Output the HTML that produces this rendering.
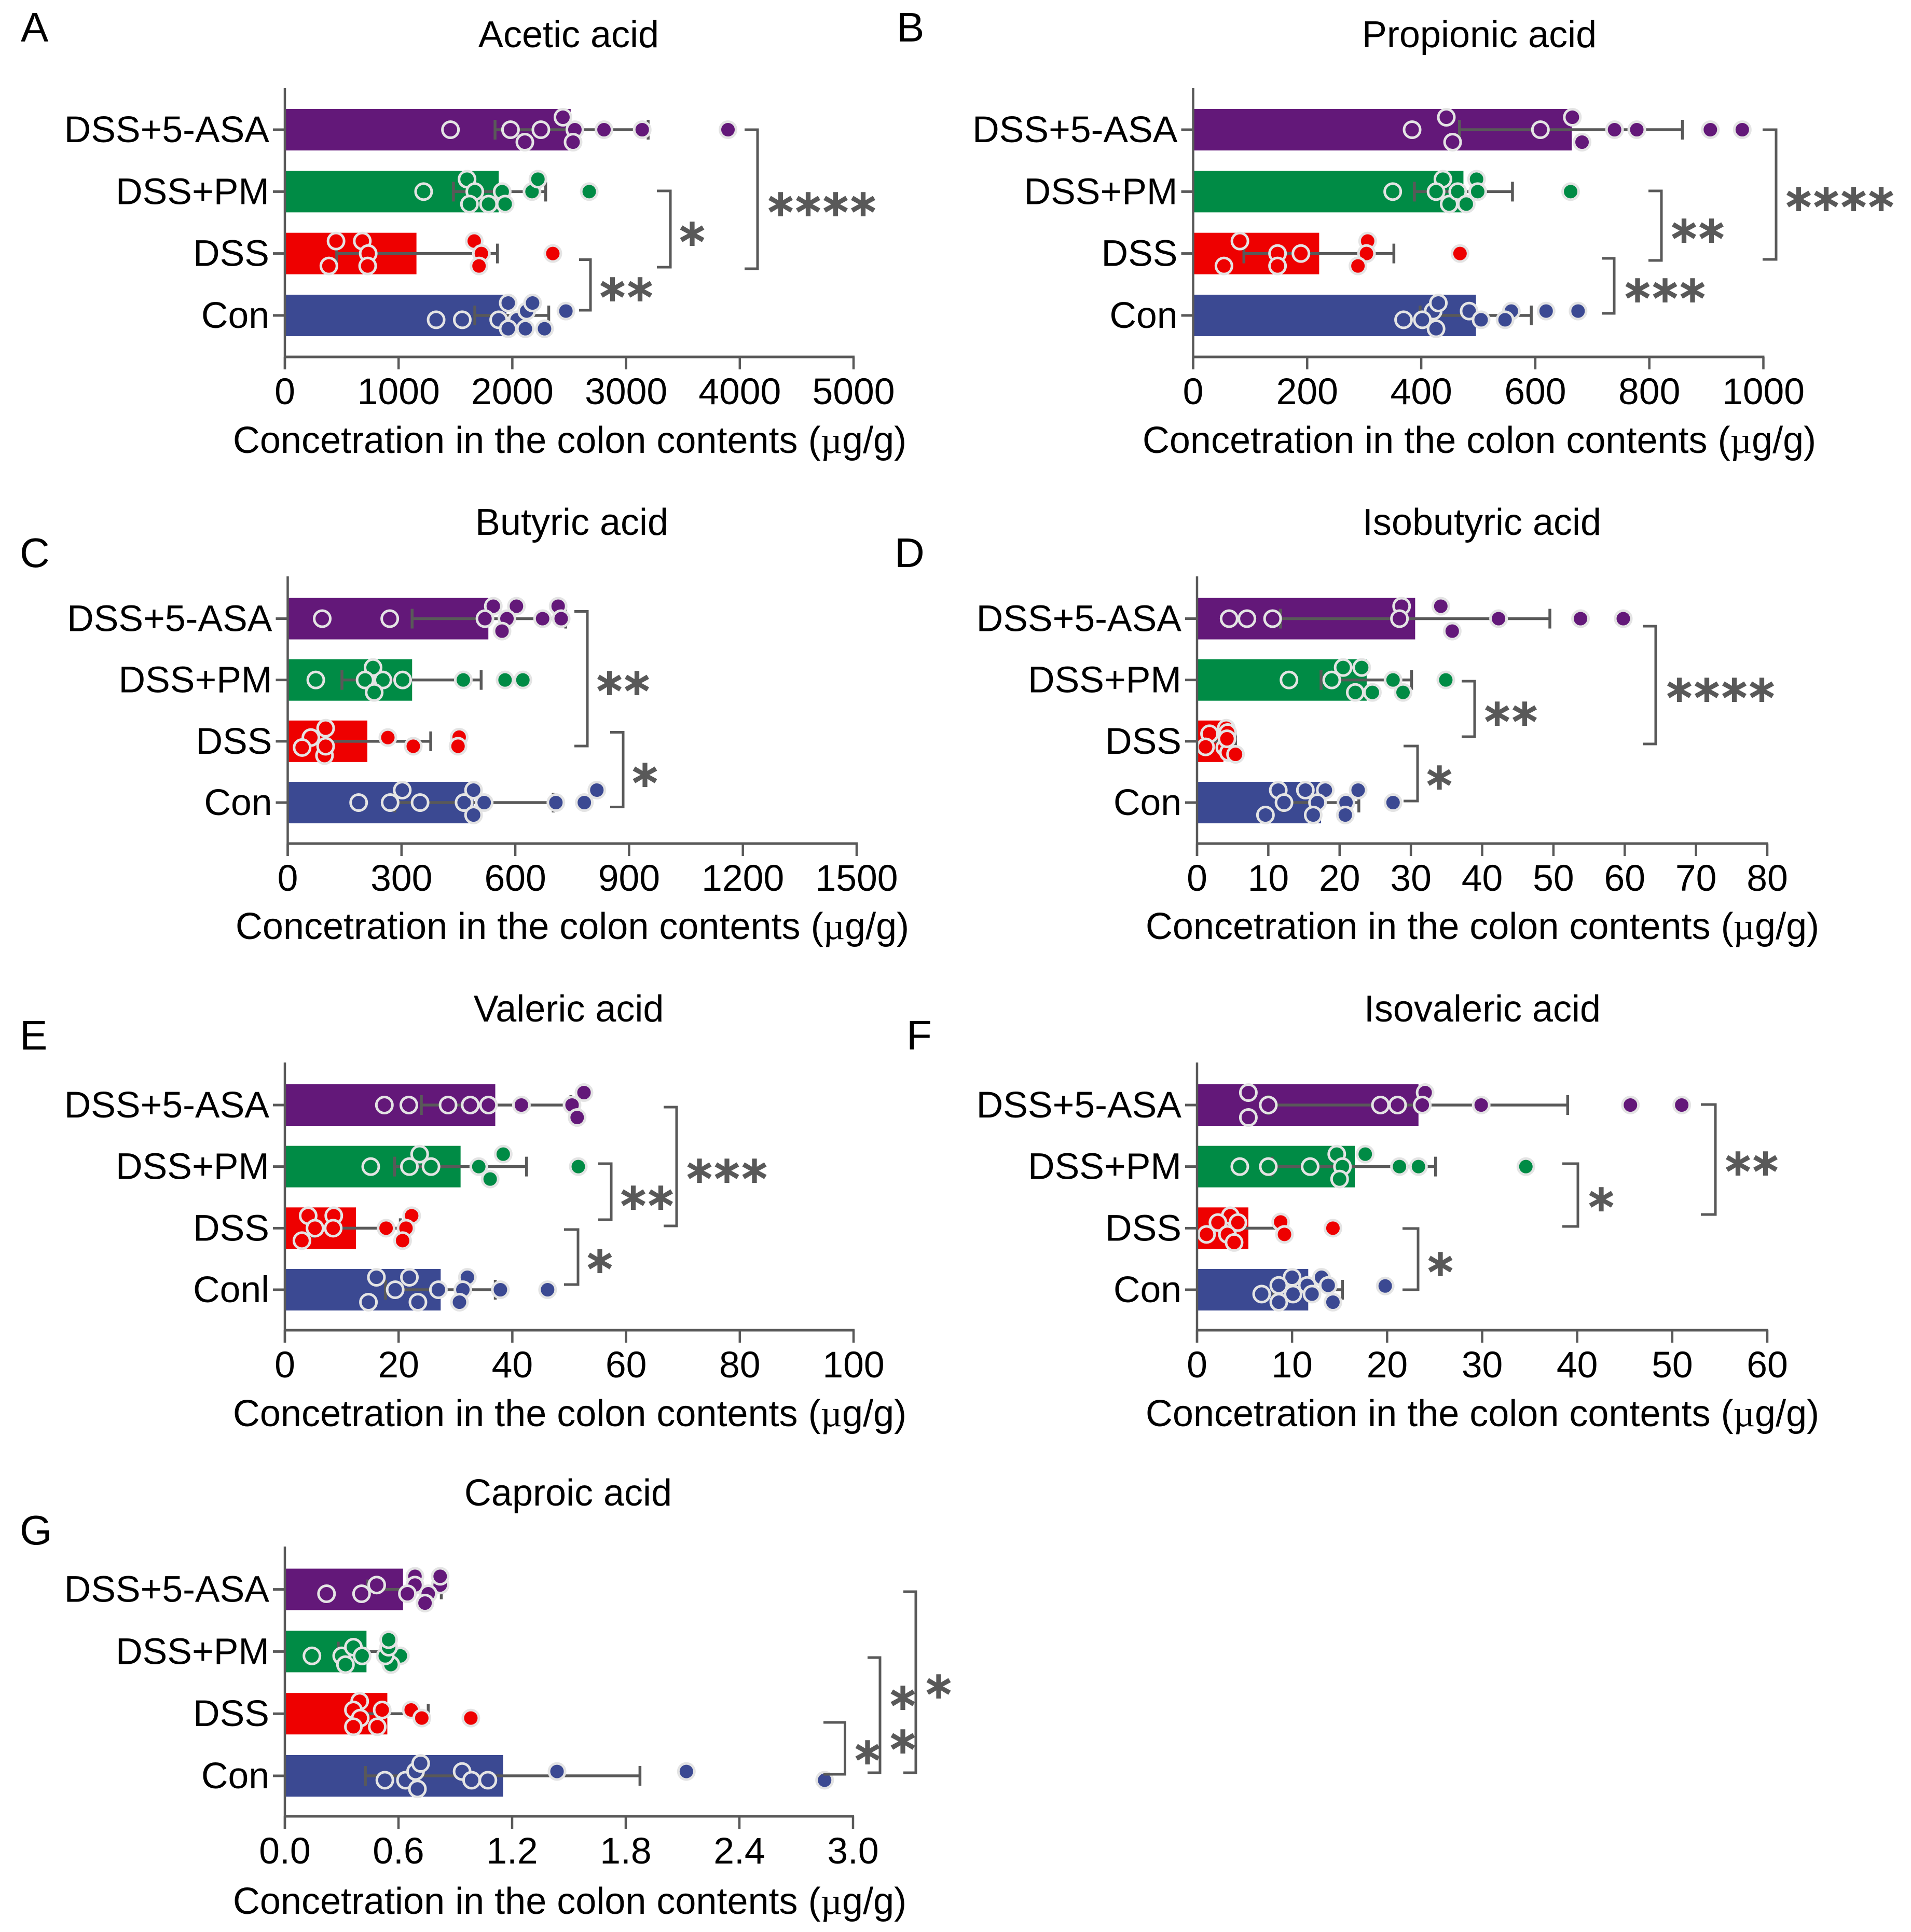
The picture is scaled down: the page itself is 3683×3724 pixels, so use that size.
<!DOCTYPE html>
<html lang="en">
<head>
<meta charset="utf-8">
<title>Short-chain fatty acid concentrations in the colon contents</title>
<style>
  html, body { margin: 0; padding: 0; background: #fff; }
  svg { display: block; }
  text { font-family: "Liberation Sans", Arial, sans-serif; fill: #000; }
  .label { font-size: 71.5px; }
  .axis-title { font-size: 72px; }
  .letter { font-size: 80px; }
  .mu { font-family: "Liberation Serif", serif; }
  .stars { font-family: "DejaVu Sans", sans-serif; font-size: 94px; fill: #595959; stroke: #595959; stroke-width: 4px; letter-spacing: 6px; text-anchor: middle; }
  .bracket { fill: none; stroke: #595959; stroke-width: 5; }
</style>
</head>
<body>
<svg id="figure" xmlns="http://www.w3.org/2000/svg" width="3683" height="3724" viewBox="0 0 3683 3724">
  <rect width="3683" height="3724" fill="#fff"/>

  <text class="letter" x="40" y="80">A</text>
  <text class="letter" x="1728" y="80">B</text>
  <text class="letter" x="38" y="1093">C</text>
  <text class="letter" x="1724" y="1093">D</text>
  <text class="letter" x="38" y="2023">E</text>
  <text class="letter" x="1747" y="2023">F</text>
  <text class="letter" x="38" y="2977">G</text>

  <text class="axis-title" x="1096" y="91" text-anchor="middle">Acetic acid</text>
  <text class="axis-title" x="2851" y="91" text-anchor="middle">Propionic acid</text>
  <text class="axis-title" x="1102" y="1031" text-anchor="middle">Butyric acid</text>
  <text class="axis-title" x="2856" y="1031" text-anchor="middle">Isobutyric acid</text>
  <text class="axis-title" x="1096" y="1969" text-anchor="middle">Valeric acid</text>
  <text class="axis-title" x="2857" y="1969" text-anchor="middle">Isovaleric acid</text>
  <text class="axis-title" x="1095" y="2902" text-anchor="middle">Caproic acid</text>

  <text class="axis-title" x="1098" y="873" text-anchor="middle">Concetration in the colon contents (<tspan class="mu">µ</tspan>g/g)</text>
  <text class="axis-title" x="2851" y="873" text-anchor="middle">Concetration in the colon contents (<tspan class="mu">µ</tspan>g/g)</text>
  <text class="axis-title" x="1103" y="1810" text-anchor="middle">Concetration in the colon contents (<tspan class="mu">µ</tspan>g/g)</text>
  <text class="axis-title" x="2857" y="1810" text-anchor="middle">Concetration in the colon contents (<tspan class="mu">µ</tspan>g/g)</text>
  <text class="axis-title" x="1098" y="2749" text-anchor="middle">Concetration in the colon contents (<tspan class="mu">µ</tspan>g/g)</text>
  <text class="axis-title" x="2857" y="2749" text-anchor="middle">Concetration in the colon contents (<tspan class="mu">µ</tspan>g/g)</text>
  <text class="axis-title" x="1098" y="3689" text-anchor="middle">Concetration in the colon contents (<tspan class="mu">µ</tspan>g/g)</text>

  <g id="panels"></g>

  <g>
    <path class="bracket" d="M1116 500.5H1138V598H1116"/>
    <text class="stars" x="1210" y="606">**</text>
    <path class="bracket" d="M1266 368H1292V515H1266"/>
    <text class="stars" x="1337" y="499">*</text>
    <path class="bracket" d="M1435 250H1460V518H1435"/>
    <text class="stars" x="1587" y="442">****</text>
  </g>
  <g>
    <path class="bracket" d="M3087 498H3111V604H3087"/>
    <text class="stars" x="3212" y="608">***</text>
    <path class="bracket" d="M3177 368H3202V502H3177"/>
    <text class="stars" x="3275" y="493">**</text>
    <path class="bracket" d="M3397 250H3423V500H3397"/>
    <text class="stars" x="3549" y="432">****</text>
  </g>
  <g>
    <path class="bracket" d="M1107 1178.5H1132V1438H1107"/>
    <text class="stars" x="1204" y="1365">**</text>
    <path class="bracket" d="M1176 1411.5H1201V1555.5H1176"/>
    <text class="stars" x="1246" y="1542">*</text>
  </g>
  <g>
    <path class="bracket" d="M2705 1438H2732V1544H2705"/>
    <text class="stars" x="2777" y="1547">*</text>
    <path class="bracket" d="M2817 1313H2842V1420H2817"/>
    <text class="stars" x="2915" y="1424">**</text>
    <path class="bracket" d="M3166 1207H3191V1434H3166"/>
    <text class="stars" x="3319" y="1378">****</text>
  </g>
  <g>
    <path class="bracket" d="M1087 2370H1114V2476H1087"/>
    <text class="stars" x="1159" y="2479">*</text>
    <path class="bracket" d="M1153 2243H1178V2351H1153"/>
    <text class="stars" x="1250" y="2357">**</text>
    <path class="bracket" d="M1279 2134H1304V2363H1279"/>
    <text class="stars" x="1404" y="2305">***</text>
  </g>
  <g>
    <path class="bracket" d="M2703 2368H2733V2486H2703"/>
    <text class="stars" x="2779" y="2485">*</text>
    <path class="bracket" d="M3011 2243H3041V2364H3011"/>
    <text class="stars" x="3089" y="2360">*</text>
    <path class="bracket" d="M3278 2129H3306V2341H3278"/>
    <text class="stars" x="3379" y="2291">**</text>
  </g>
  <g>
    <path class="bracket" d="M1587 3320H1628.5V3420H1587"/>
    <text class="stars" x="1675" y="3426">*</text>
    <path class="bracket" d="M1672 3195H1696V3417H1672"/>
    <text class="stars" x="1743" y="3321">*</text>
    <text class="stars" x="1743" y="3405">*</text>
    <path class="bracket" d="M1741 3068H1765V3417H1741"/>
    <text class="stars" x="1812" y="3299">*</text>
  </g>
</svg>

<script>
/* ---------- shared categories ---------- */
const groupLabels = ['DSS+5-ASA', 'DSS+PM', 'DSS', 'Con'];
const valericLabels = ['DSS+5-ASA', 'DSS+PM', 'DSS', 'Conl'];
const groupSlugs = ['dss-5-asa', 'dss-pm', 'dss', 'con'];
const groupColors = ['#631879', '#008B45', '#EE0000', '#3B4992'];

/* ---------- A: acetic acid ---------- */
const aceticTicks = ['0', '1000', '2000', '3000', '4000', '5000'];
const aceticMeans = [2513, 1880, 1157, 1948];
const aceticLow = [1848, 1482, 456, 1670];
const aceticHigh = [3194, 2293, 1869, 2320];
const aceticAsa = [1456, 1984, 2251, 2110, 2445, 2550, 2534, 2806, 3142, 3896];
const aceticAsaLanes = [0, 0, 0, 1, -1, 0, 1, 0, 0, 0];
const aceticPm = [1220, 1602, 1670, 1623, 1791, 1911, 1937, 2173, 2225, 2676];
const aceticPmLanes = [0, -1, 0, 1, 1, 0, 1, 0, -1, 0];
const aceticDss = [450, 681, 733, 387, 728, 1665, 1728, 1707, 2356];
const aceticDssLanes = [-1, -1, 0, 1, 1, -1, 0, 1, 0];
const aceticCon = [1330, 1560, 1880, 2042, 2126, 1964, 2178, 2471, 2115, 1964, 2283];
const aceticConLanes = [0.35, 0.35, 0.35, 0.35, -0.35, -1, -1, -0.35, 1.07, 1.07, 1.07];

/* ---------- B: propionic acid ---------- */
const propionicTicks = ['0', '200', '400', '600', '800', '1000'];
const propionicMeans = [664, 474, 221, 496];
const propionicLow = [467, 388, 89, 398];
const propionicHigh = [858, 560, 352, 593];
const propionicAsa = [384, 444, 455, 609, 665, 682, 739, 778, 907, 963];
const propionicAsaLanes = [0, -1, 1, 0, -1, 1, 0, 0, 0, 0];
const propionicPm = [350, 438, 426, 449, 464, 479, 497, 499, 662];
const propionicPmLanes = [0, -1, 0, 1, 0, 1, -1, 0, 0];
const propionicDss = [82, 148, 189, 54, 148, 306, 304, 289, 468];
const propionicDssLanes = [-1, 0, 0, 1, 1, -1, 0, 1, 0];
const propionicCon = [421, 369, 402, 430, 426, 558, 484, 505, 547, 619, 675];
const propionicConLanes = [-0.35, 0.35, 0.35, -1, 1.07, -0.35, -0.35, 0.35, 0.35, -0.35, -0.35];

/* ---------- C: butyric acid ---------- */
const butyricTicks = ['0', '300', '600', '900', '1200', '1500'];
const butyricMeans = [529, 328, 210, 490];
const butyricLow = [328, 143, 97, 282];
const butyricHigh = [733, 510, 377, 700];
const butyricAsa = [91, 269, 542, 603, 520, 578, 565, 672, 713, 721];
const butyricAsaLanes = [0, 0, -1, -1, 0, 0, 1, 0, -1, 0];
const butyricPm = [74, 225, 204, 251, 303, 228, 463, 573, 620];
const butyricPmLanes = [0, -1, 0, 0, 0, 1, 0, 0, 0];
const butyricDss = [97, 100, 61, 38, 100, 264, 331, 452, 449];
const butyricDssLanes = [1.15, -1.05, -0.3, 0.5, 0.4, -0.3, 0.4, -0.33, 0.4];
const butyricCon = [187, 302, 270, 349, 465, 490, 518, 490, 707, 782, 815];
const butyricConLanes = [0, -1, 0, 0, 0, -1, 0, 1, 0, 0, -1];

/* ---------- D: isobutyric acid ---------- */
const isobutyricTicks = ['0', '10', '20', '30', '40', '50', '60', '70', '80'];
const isobutyricMeans = [30.6, 23.8, 3.7, 17.4];
const isobutyricLow = [11.7, 17.4, 2, 12];
const isobutyricHigh = [49.5, 30.1, 5.4, 22.7];
const isobutyricAsa = [4.5, 7, 10.6, 28.7, 28.4, 34.2, 35.8, 42.3, 53.8, 59.8];
const isobutyricAsaLanes = [0, 0, 0, -1, 0, -1, 1, 0, 0, 0];
const isobutyricPm = [12.9, 20.5, 23.1, 18.9, 27.5, 22.2, 24.6, 28.9, 34.9];
const isobutyricPmLanes = [0, -1, -1, 0, 0, 1, 1, 1, 0];
const isobutyricDss = [1.75, 4.1, 4.3, 3.9, 4.4, 5.4, 1.2, 4.2];
const isobutyricDssLanes = [-0.6, -1.05, -0.7, 0.5, 0.9, 1.05, 0.45, -0.2];
const isobutyricCon = [11.4, 15.2, 18, 22.6, 12.2, 16.9, 20.9, 27.5, 9.6, 16.3, 20.8];
const isobutyricConLanes = [-1, -1, -1, -1, 0, 0, 0, 0, 1, 1, 1];

/* ---------- E: valeric acid ---------- */
const valericTicks = ['0', '20', '40', '60', '80', '100'];
const valericMeans = [37, 30.9, 12.5, 27.4];
const valericLow = [24, 19.3, 5, 17.7];
const valericHigh = [50.3, 42.5, 20.3, 37];
const valericAsa = [17.5, 21.8, 28.7, 32.6, 35.8, 41.6, 50.5, 52.6, 51.4];
const valericAsaLanes = [0, 0, 0, 0, 0, 0, 0, -1, 1];
const valericPm = [15.1, 23.7, 21.9, 25.7, 34.1, 38.4, 36.1, 51.6];
const valericPmLanes = [0, -1, 0, 0, 0, -1, 1, 0];
const valericDss = [4.1, 8.6, 5.3, 8.5, 3, 22.3, 17.8, 21.3, 20.7];
const valericDssLanes = [-1, -1, 0, 0, 1, -1, 0, 0, 1];
const valericCon = [16.1, 21.9, 19.4, 14.7, 23.4, 27, 32.1, 31.3, 30.7, 37.9, 46.2];
const valericConLanes = [-1, -1, 0, 1, 1, 0, -1, 0, 1, 0, 0];

/* ---------- F: isovaleric acid ---------- */
const isovalericTicks = ['0', '10', '20', '30', '40', '50', '60'];
const isovalericMeans = [23.3, 16.6, 5.4, 11.7];
const isovalericLow = [7.5, 7.9, 1.5, 8];
const isovalericHigh = [39, 25.1, 9, 15.3];
const isovalericAsa = [5.4, 7.5, 5.4, 19.3, 21.1, 24, 23.7, 29.9, 45.6, 51];
const isovalericAsaLanes = [-1, 0, 1, 0, 0, -1, 0, 0, 0, 0];
const isovalericPm = [4.5, 7.5, 11.9, 14.7, 15.3, 15, 17.7, 21.3, 23.3, 34.6];
const isovalericPmLanes = [0, 0, 0, -1, 0, 1, -1, 0, 0, 0];
const isovalericDss = [3.5, 2.2, 4.3, 1, 3.2, 3.9, 8.8, 9.2, 14.3];
const isovalericDssLanes = [-1, -0.45, -0.45, 0.5, 0.5, 1.15, -0.5, 0.5, 0];
const isovalericCon = [10, 13.1, 8.6, 11.6, 13.8, 6.8, 10.1, 12.1, 8.6, 14.3, 19.8];
const isovalericConLanes = [-1, -1, -0.35, -0.35, -0.35, 0.35, 0.35, 0.35, 1, 1, -0.3];

/* ---------- G: caproic acid ---------- */
const caproicTicks = ['0.0', '0.6', '1.2', '1.8', '2.4', '3.0'];
const caproicMeans = [0.624, 0.431, 0.541, 1.152];
const caproicLow = [0.438, 0.282, 0.37, 0.425];
const caproicHigh = [0.826, 0.58, 0.757, 1.875];
const caproicAsa = [0.22, 0.405, 0.485, 0.687, 0.82, 0.82, 0.687, 0.647, 0.757, 0.74];
const caproicAsaLanes = [0.35, 0.35, -0.35, -1.05, -0.35, -1.05, -0.35, 0.35, 0.35, 1.1];
const caproicPm = [0.143, 0.3, 0.362, 0.32, 0.408, 0.61, 0.56, 0.53, 0.548, 0.548];
const caproicPmLanes = [0.35, 0.35, -0.35, 1.05, 0.35, 0.35, 1.05, 0.35, -0.35, -0.95];
const caproicDss = [0.395, 0.362, 0.514, 0.398, 0.362, 0.488, 0.667, 0.723, 0.982];
const caproicDssLanes = [-1, -0.3, -0.3, 0.35, 1.05, 1.05, -0.3, 0.35, 0.35];
const caproicCon = [0.528, 0.637, 0.69, 0.717, 0.70, 0.936, 0.986, 1.072, 1.437, 2.12, 2.85];
const caproicConLanes = [0.35, 0.35, -0.35, -1, 1.05, -0.35, 0.35, 0.35, -0.35, -0.35, 0.35];

/* ---------- drawing ---------- */
const SVG_NS = 'http://www.w3.org/2000/svg';
const GREY = '#595959';

function mk(parent, tag, attrs, txt) {
  const el = document.createElementNS(SVG_NS, tag);
  for (const k in attrs) el.setAttribute(k, attrs[k]);
  if (txt !== undefined) el.textContent = txt;
  parent.appendChild(el);
  return el;
}

function drawPanel(id, title, box, labels, ticks, means, low, high, values, lanes) {
  const root = document.getElementById('panels');
  const g = mk(root, 'g', {});
  
  

  const maxTick = parseFloat(ticks[ticks.length - 1]);
  const xScale = v => box.x0 + (v / maxTick) * (box.x1 - box.x0);
  const yBand = i => box.band0 + i * (box.band3 - box.band0) / 3;
  const laneUnit = 24, barH = 80, capH = 38;

  groupLabels.forEach((_, i) => {
    const cy = yBand(i);
    const slug = id + '-' + groupSlugs[i];
    const color = groupColors[i];

    const bar = mk(g, 'rect', { x: box.x0, y: cy - barH / 2, width: xScale(means[i]) - box.x0, height: barH, fill: color });
    
    

    const xl = xScale(low[i]), xh = xScale(high[i]);
    const err = mk(g, 'path', {
      d: 'M' + xl + ' ' + cy + 'H' + xh + 'M' + xl + ' ' + (cy - capH / 2) + 'V' + (cy + capH / 2) + 'M' + xh + ' ' + (cy - capH / 2) + 'V' + (cy + capH / 2),
      fill: 'none', stroke: GREY, 'stroke-width': 5.5
    });
    
    

    values[i].forEach((v, j) => {
      const dot = mk(g, 'circle', {
        cx: xScale(v), cy: cy + lanes[i][j] * laneUnit, r: 15.5,
        fill: color, stroke: '#e4e4e4', 'stroke-width': 5
      });
      
      
    });

    const tick = mk(g, 'line', { x1: box.x0 - 23, x2: box.x0, y1: cy, y2: cy, stroke: GREY, 'stroke-width': 5 });
    
    

    const lab = mk(g, 'text', { class: 'label', x: box.x0 - 30, y: cy + 24, 'text-anchor': 'end' }, labels[i]);
    
    
  });

  const yAxis = mk(g, 'line', { x1: box.x0, x2: box.x0, y1: box.top, y2: box.axis + 24, stroke: GREY, 'stroke-width': 4.5 });
  
  

  const xAxis = mk(g, 'line', { x1: box.x0 - 2, x2: box.x1 + 2, y1: box.axis, y2: box.axis, stroke: GREY, 'stroke-width': 5 });
  
  

  ticks.forEach(t => {
    const tx = xScale(parseFloat(t));
    const tickMark = mk(g, 'line', { x1: tx, x2: tx, y1: box.axis, y2: box.axis + 24, stroke: GREY, 'stroke-width': 4.5 });
    
    

    const tickLabel = mk(g, 'text', { class: 'label', x: tx, y: box.axis + 91, 'text-anchor': 'middle' }, t);
    
    
  });
}

drawPanel('a', 'acetic-acid', { x0: 549, x1: 1645, top: 170, axis: 688, band0: 250, band3: 608 },
  groupLabels, aceticTicks, aceticMeans, aceticLow, aceticHigh,
  [aceticAsa, aceticPm, aceticDss, aceticCon],
  [aceticAsaLanes, aceticPmLanes, aceticDssLanes, aceticConLanes]);

drawPanel('b', 'propionic-acid', { x0: 2299.5, x1: 3398.5, top: 170, axis: 688, band0: 250, band3: 608 },
  groupLabels, propionicTicks, propionicMeans, propionicLow, propionicHigh,
  [propionicAsa, propionicPm, propionicDss, propionicCon],
  [propionicAsaLanes, propionicPmLanes, propionicDssLanes, propionicConLanes]);

drawPanel('c', 'butyric-acid', { x0: 554.5, x1: 1651, top: 1111, axis: 1626, band0: 1192.5, band3: 1547 },
  groupLabels, butyricTicks, butyricMeans, butyricLow, butyricHigh,
  [butyricAsa, butyricPm, butyricDss, butyricCon],
  [butyricAsaLanes, butyricPmLanes, butyricDssLanes, butyricConLanes]);

drawPanel('d', 'isobutyric-acid', { x0: 2307, x1: 3406, top: 1111, axis: 1626, band0: 1192.5, band3: 1547 },
  groupLabels, isobutyricTicks, isobutyricMeans, isobutyricLow, isobutyricHigh,
  [isobutyricAsa, isobutyricPm, isobutyricDss, isobutyricCon],
  [isobutyricAsaLanes, isobutyricPmLanes, isobutyricDssLanes, isobutyricConLanes]);

drawPanel('e', 'valeric-acid', { x0: 549, x1: 1645, top: 2048, axis: 2564, band0: 2130, band3: 2486 },
  valericLabels, valericTicks, valericMeans, valericLow, valericHigh,
  [valericAsa, valericPm, valericDss, valericCon],
  [valericAsaLanes, valericPmLanes, valericDssLanes, valericConLanes]);

drawPanel('f', 'isovaleric-acid', { x0: 2307, x1: 3406, top: 2048, axis: 2564, band0: 2130, band3: 2486 },
  groupLabels, isovalericTicks, isovalericMeans, isovalericLow, isovalericHigh,
  [isovalericAsa, isovalericPm, isovalericDss, isovalericCon],
  [isovalericAsaLanes, isovalericPmLanes, isovalericDssLanes, isovalericConLanes]);

drawPanel('g', 'caproic-acid', { x0: 549, x1: 1644, top: 2981, axis: 3501, band0: 3063.6, band3: 3423 },
  groupLabels, caproicTicks, caproicMeans, caproicLow, caproicHigh,
  [caproicAsa, caproicPm, caproicDss, caproicCon],
  [caproicAsaLanes, caproicPmLanes, caproicDssLanes, caproicConLanes]);
</script>
</body>
</html>
